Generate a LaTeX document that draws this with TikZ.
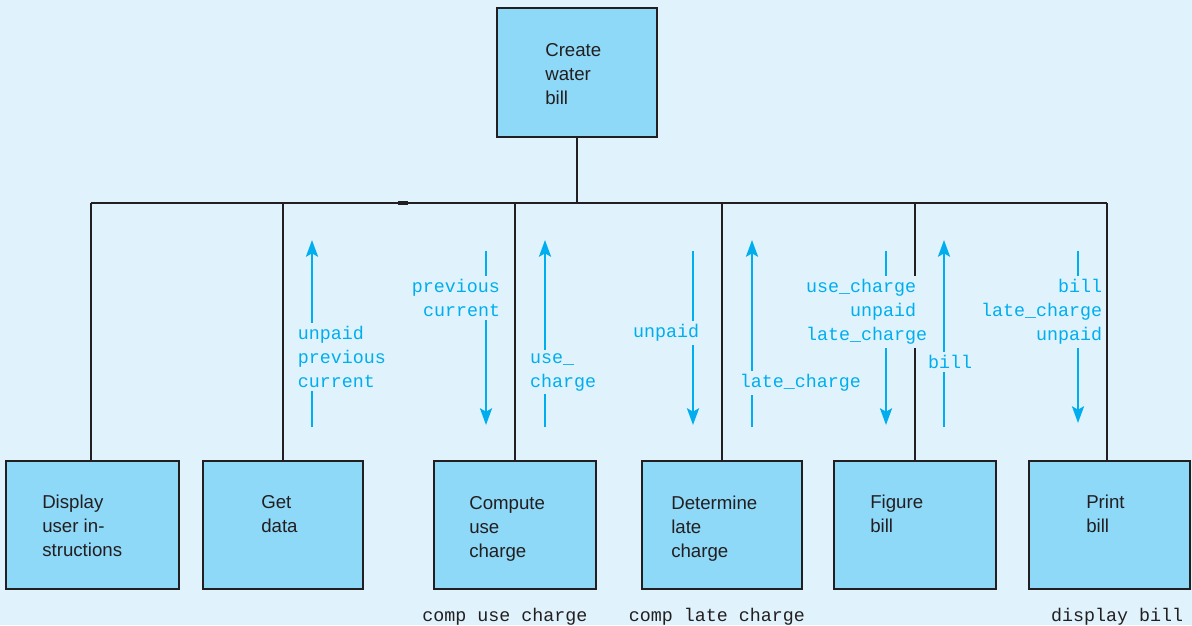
\documentclass[tikz,border=0pt]{standalone}
\usepackage{fontspec}
\setmainfont{Liberation Sans}
\newfontfamily\codefont{Liberation Mono}
\usetikzlibrary{arrows.meta}
\definecolor{bgc}{HTML}{E0F2FC}
\definecolor{boxc}{HTML}{8ED8F8}
\definecolor{inkc}{HTML}{231F20}
\definecolor{flowc}{HTML}{00AEEF}
\tikzset{
  x=0.75pt, y=-0.75pt,
  module/.style={draw=inkc, fill=boxc, line width=1.9pt, inner sep=0pt, minimum height={128*0.75pt}},
  modtext/.style={anchor=west, align=left, text=inkc, inner sep=0pt, font=\fontsize{14}{18}\selectfont},
  link/.style={draw=inkc, line width=1.9pt},
  flow/.style={draw=flowc, line width=2pt, -{Stealth[length=12.5pt, width=9pt, inset=2.5pt]}},
  flowlbl/.style={text=flowc, fill=bgc, inner sep=2.5pt, font=\codefont\fontsize{13.75}{18}\selectfont},
  codelbl/.style={text=inkc, inner sep=0pt, font=\codefont\fontsize{13.75}{18}\selectfont},
}
\begin{document}
\begin{tikzpicture}
\fill[bgc] (0,0) rectangle (1192,625);
\useasboundingbox (0,0) rectangle (1192,625);

% modules
\node[module, minimum width={160*0.75pt}, minimum height={129*0.75pt}] (top) at (577,72.5) {};
\node[module, minimum width={173*0.75pt}] (b1) at (92.5,525) {};
\node[module, minimum width={160*0.75pt}] (b2) at (283,525) {};
\node[module, minimum width={162*0.75pt}] (b3) at (515,525) {};
\node[module, minimum width={160*0.75pt}] (b4) at (722,525) {};
\node[module, minimum width={162*0.75pt}] (b5) at (915,525) {};
\node[module, minimum width={161*0.75pt}] (b6) at (1109.5,525) {};

\node[modtext] (ttop) at (545,74) {Create\\water\\bill};
\node[modtext] (t1) at (42,526) {Display\\user in-\\structions};
\node[modtext] (t2) at (261,514) {Get\\data};
\node[modtext] (t3) at (469,529) {Compute\\use\\charge};
\node[modtext] (t4) at (671,529) {Determine\\late\\charge};
\node[modtext] (t5) at (870,514) {Figure\\bill};
\node[modtext] (t6) at (1086,514) {Print\\bill};

% structure lines
\coordinate (busL) at (91,203);
\coordinate (busR) at (1107,203);
\draw[link] (top.south) -- (top.south |- busL);
\draw[link] (busL) -- (busR);
\draw[inkc, line width=2.6pt] (398,203) -- (408,203);
\draw[link] (b1.north -| busL) -- (busL);
\draw[link] (b2.north) -- (b2.north |- busL);
\draw[link] (b3.north) -- (b3.north |- busL);
\draw[link] (b4.north) -- (b4.north |- busL);
\draw[link] (b5.north) -- (b5.north |- busL);
\draw[link] (b6.north -| busR) -- (busR);

% data flow arrows
\coordinate (a1s) at (312,427); \coordinate (a1e) at (312,240);
\coordinate (a2s) at (486,251); \coordinate (a2e) at (486,425);
\coordinate (a3s) at (545,427); \coordinate (a3e) at (545,240);
\coordinate (a4s) at (693,251); \coordinate (a4e) at (693,425);
\coordinate (a5s) at (752,427); \coordinate (a5e) at (752,240);
\coordinate (a6s) at (886,251); \coordinate (a6e) at (886,425);
\coordinate (a7s) at (944,427); \coordinate (a7e) at (944,240);
\coordinate (a8s) at (1078,251); \coordinate (a8e) at (1078,423);
\foreach \i in {1,...,8} { \draw[flow] (a\i s) -- (a\i e); }

% flow labels
\node[flowlbl, align=left] (f1) at (342,357) {unpaid\\previous\\current};
\node[flowlbl, align=right] (f2) at (456,298) {previous\\current};
\node[flowlbl, align=left] (f3) at (563,372) {use\_\\charge};
\node[flowlbl] (f4) at (666,333) {unpaid};
\node[flowlbl] (f5) at (800.5,383) {late\_charge};
\node[flowlbl, align=left] (f6) at (866.5,312) {use\_charge\\\phantom{use\_}unpaid\\late\_charge};
\node[flowlbl] (f7) at (950,362) {bill};
\node[flowlbl, align=right] (f8) at (1041.5,312) {bill\\late\_charge\\unpaid};

% module names
\node[codelbl] (c3) at (505,617) {comp use charge};
\node[codelbl] (c4) at (717,617) {comp late charge};
\node[codelbl] (c6) at (1117,617) {display bill};
\end{tikzpicture}
\end{document}
